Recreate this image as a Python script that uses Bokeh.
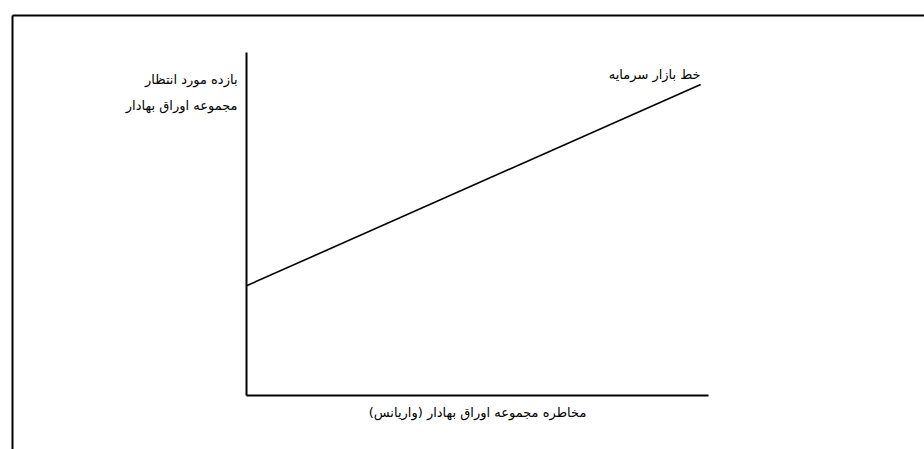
from bokeh.plotting import figure
from bokeh.models import Range1d, Label, LinearAxis
from bokeh.embed import file_html
from bokeh.resources import INLINE

# Capital market line (schematic)
risk = [0.0, 0.983]
expected_return = [0.32, 0.907]

x_title = "مخاطره مجموعه اوراق بهادار (واریانس)\u200f"
y_title_lines = ["بازده مورد انتظار", "مجموعه اوراق بهادار"]
line_name = "خط بازار سرمایه"

FONT = "DejaVu Sans"
FS = "13px"

p = figure(width=924, height=449, output_backend="svg", toolbar_location=None,
           x_range=Range1d(-0.5065, 1.4675), y_range=Range1d(-0.1574, 1.1079),
           x_axis_location=None, y_axis_location=None,
           min_border_left=12, min_border_right=0,
           min_border_top=15, min_border_bottom=0)
p.xgrid.visible = False
p.ygrid.visible = False
p.outline_line_color = None
p.background_fill_color = "white"
p.border_fill_color = "white"


def bare_axis(color="black", **kw):
    ax = LinearAxis(ticker=[], axis_line_color=color, axis_line_width=2,
                    major_tick_line_color=None, minor_tick_line_color=None,
                    major_tick_out=0, major_tick_in=0, minor_tick_out=0,
                    major_label_text_font_size="0px", **kw)
    return ax


# page frame lines (left and top)
p.add_layout(bare_axis(), "left")
p.add_layout(bare_axis(), "above")
# chart axes at the origin
p.add_layout(bare_axis(fixed_location=0, bounds=(0, 1)), "below")
p.add_layout(bare_axis(fixed_location=0, bounds=(0, 1)), "right")

p.line(risk, expected_return, line_color="black", line_width=1.6)

for txt, yy in zip(y_title_lines, [0.92, 0.845]):
    p.add_layout(Label(x=-0.0195, y=yy, text=txt, text_align="right",
                       text_baseline="middle", text_font=FONT,
                       text_font_size=FS, text_color="black"))

p.add_layout(Label(x=0.5, y=-0.05, text=x_title, text_align="center",
                   text_baseline="middle", text_font=FONT,
                   text_font_size=FS, text_color="black"))

p.add_layout(Label(x=risk[-1], y=0.936, text=line_name, text_align="right",
                   text_baseline="middle", text_font=FONT,
                   text_font_size=FS, text_color="black"))

open("out.html", "w").write(file_html(p, INLINE))
